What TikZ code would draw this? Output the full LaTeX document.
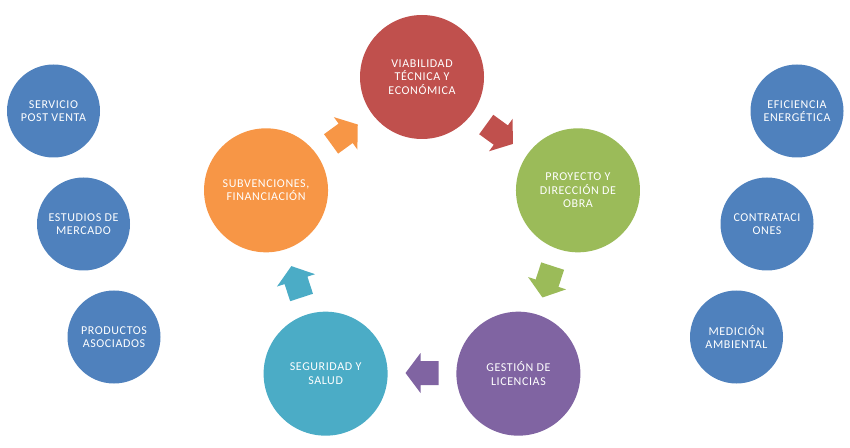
\documentclass[tikz,border=0pt]{standalone}
\usepackage{fontspec}
\setmainfont{Carlito}[LetterSpace=5]
\usetikzlibrary{calc}
\definecolor{cred}{HTML}{C0504D}
\definecolor{cgreen}{HTML}{9BBB59}
\definecolor{cpurple}{HTML}{8064A2}
\definecolor{cteal}{HTML}{4BACC6}
\definecolor{corange}{HTML}{F79646}
\definecolor{cblue}{HTML}{4F81BD}
\begin{document}
\begin{tikzpicture}[x=1pt,y=1pt,
  txt/.style={text=white,align=center,font=\fontsize{12}{13.5}\selectfont},
  big/.style={circle,minimum size=124pt,inner sep=0pt,txt},
  small/.style={circle,minimum size=93pt,inner sep=0pt,fill=cblue,txt},
  pics/barrow/.style={code={\fill[#1] (-16.5,-12) -- (1.5,-12) -- (1.5,-20) -- (16.5,0) -- (1.5,20) -- (1.5,12) -- (-16.5,12) -- cycle;}}]
\useasboundingbox (0,0) rectangle (850,447);
\coordinate (c) at (422,206);
% big circles
\node[big,fill=cred]    (via) at ($(c)+(90:164)$)   {VIABILIDAD\\TÉCNICA Y\\ECONÓMICA};
\node[big,fill=cgreen]  (pro) at ($(c)+(18:164)$)   {PROYECTO Y\\DIRECCIÓN DE\\OBRA};
\node[big,fill=cpurple] (ges) at ($(c)+(-54:164)$)  {GESTIÓN DE\\LICENCIAS};
\node[big,fill=cteal]   (seg) at ($(c)+(-126:164)$) {SEGURIDAD Y\\SALUD};
\node[big,fill=corange] (sub) at ($(c)+(162:164)$)  {SUBVENCIONES,\\FINANCIACIÓN};
% block arrows
\pic[rotate=-36] at ($(c)+(54:132)$)   {barrow=cred};
\pic[rotate=-108] at ($(c)+(-18:132)$) {barrow=cgreen};
\pic[rotate=180] at ($(c)+(-90:132)$)  {barrow=cpurple};
\pic[rotate=108] at ($(c)+(198:132)$)  {barrow=cteal};
\pic[rotate=36] at ($(c)+(126:132)$)   {barrow=corange};
% small circles
\node[small] (ser) at (53.5,336)  {SERVICIO\\POST VENTA};
\node[small] (est) at (83.5,223)  {ESTUDIOS DE\\MERCADO};
\node[small] (prd) at (114,110)   {PRODUCTOS\\ASOCIADOS};
\node[small] (efi) at (797,336)   {EFICIENCIA\\ENERGÉTICA};
\node[small] (con) at (767,223)   {CONTRATACI\\ONES};
\node[small] (med) at (736.5,110) {MEDICIÓN\\AMBIENTAL};
\end{tikzpicture}
\end{document}
